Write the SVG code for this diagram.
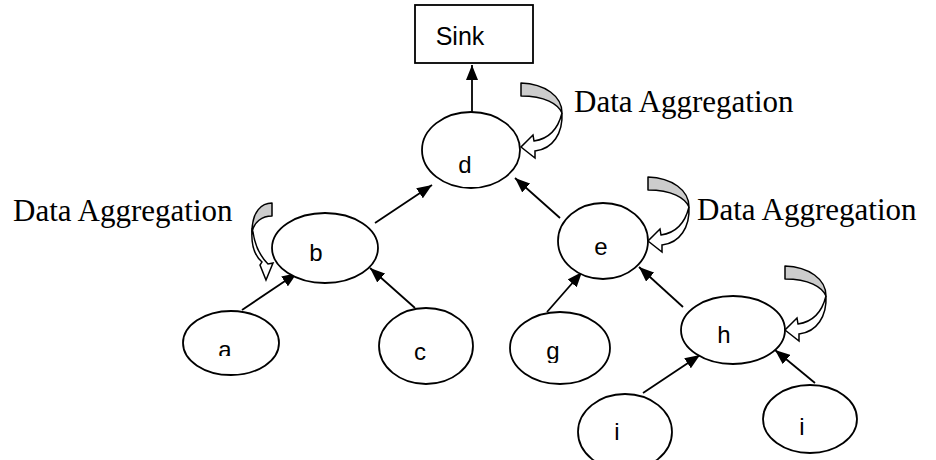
<svg xmlns="http://www.w3.org/2000/svg" xmlns:xlink="http://www.w3.org/1999/xlink" width="936" height="460" viewBox="0 0 936 460">
<style>
.node{fill:#fff;stroke:#000;stroke-width:1.8}
.lbl{font-family:"Liberation Sans",Arial,sans-serif;font-size:24px;fill:#000;text-anchor:middle}
.agg{font-family:"Liberation Serif","Times New Roman",serif;font-size:31px;fill:#000}
.edge{stroke:#000;stroke-width:1.8;fill:none;marker-end:url(#ah)}
.band{fill:#cccccc;stroke:#000;stroke-width:1.5;stroke-linejoin:round}
.shaft{fill:#fff;stroke:#000;stroke-width:1.5;stroke-linejoin:miter}
</style>
<defs>
<marker id="ah" viewBox="0 0 15 12" refX="15" refY="6" markerWidth="15" markerHeight="12" markerUnits="userSpaceOnUse" orient="auto">
<path d="M0,0 L15,6 L0,12 Z" fill="#000"/>
</marker>
<g id="curl">
<path class="shaft" d="M41,30 C42,50 32,66 14,68 L14,75 L0,64 L12,52 L13,58 C27,56 37,46 41,30 Z"/>
<path class="band" d="M0,0 C24,1 41,13 41,30 C37,21 24,13 0,13 Z"/>
</g>
<clipPath id="clipA"><rect x="200" y="330" width="60" height="26"/></clipPath>
<clipPath id="clipG"><rect x="530" y="330" width="60" height="33"/></clipPath>
</defs>
<rect width="936" height="460" fill="#fff"/>

<g id="connectors">
<line class="edge" x1="472" y1="119" x2="472" y2="65"/>
<line class="edge" x1="375" y1="223" x2="432" y2="185"/>
<line class="edge" x1="560" y1="218" x2="515" y2="178"/>
<line class="edge" x1="242" y1="310" x2="297" y2="273"/>
<line class="edge" x1="415" y1="308" x2="370" y2="268"/>
<line class="edge" x1="547" y1="312" x2="582" y2="272"/>
<line class="edge" x1="683" y1="307" x2="639" y2="267"/>
<line class="edge" x1="643" y1="393" x2="700" y2="355"/>
<line class="edge" x1="815" y1="383" x2="775" y2="350"/>
</g>

<g id="sink">
<rect class="node" x="415" y="5" width="118" height="58"/>
<text class="lbl" x="460" y="45" style="font-size:25px">Sink</text>
</g>
<g id="node-d">
<ellipse class="node" cx="471" cy="150" rx="49" ry="38"/>
<text class="lbl" x="465" y="173">d</text>
</g>
<g id="node-b">
<ellipse class="node" cx="325" cy="248" rx="53" ry="35"/>
<text class="lbl" x="316" y="261">b</text>
</g>
<g id="node-a">
<ellipse class="node" cx="231" cy="343" rx="48" ry="32"/>
<text class="lbl" x="225" y="358" clip-path="url(#clipA)">a</text>
</g>
<g id="node-c">
<ellipse class="node" cx="426" cy="346" rx="47" ry="38"/>
<text class="lbl" x="420" y="360">c</text>
</g>
<g id="node-e">
<ellipse class="node" cx="603" cy="241" rx="45" ry="38"/>
<text class="lbl" x="601" y="255">e</text>
</g>
<g id="node-g">
<ellipse class="node" cx="560" cy="348" rx="50" ry="36"/>
<text class="lbl" x="553" y="359" clip-path="url(#clipG)">g</text>
</g>
<g id="node-h">
<ellipse class="node" cx="733" cy="330" rx="52" ry="34"/>
<text class="lbl" x="724" y="343">h</text>
</g>
<g id="node-i1">
<ellipse class="node" cx="625" cy="432" rx="47" ry="38"/>
<text class="lbl" x="617" y="440">i</text>
</g>
<g id="node-i2">
<ellipse class="node" cx="810" cy="419" rx="47" ry="34"/>
<text class="lbl" x="802" y="435">i</text>
</g>

<g id="aggregation-d">
<use xlink:href="#curl" transform="translate(521,83)"/>
<text class="agg" x="574" y="112">Data Aggregation</text>
</g>
<g id="aggregation-e">
<use xlink:href="#curl" transform="translate(648,177)"/>
<text class="agg" x="697" y="220">Data Aggregation</text>
</g>
<g id="aggregation-h">
<use xlink:href="#curl" transform="translate(785,266)"/>
</g>
<g id="aggregation-b">
<path class="shaft" d="M252,230 C251,246 255,256 262,262 L260,265 L266,280 L273,263 L268,264 C260,256 255,246 253,232 Z"/>
<path class="band" d="M272,203 C262,203 252,211 252,232 C254,222 262,216 272,216 Z"/>
<text class="agg" x="13" y="221">Data Aggregation</text>
</g>
</svg>
